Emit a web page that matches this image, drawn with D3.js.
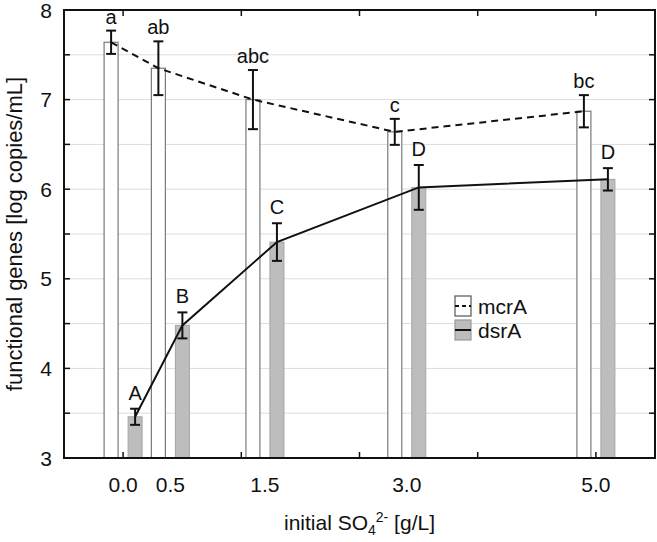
<!DOCTYPE html>
<html>
<head>
<meta charset="utf-8">
<script src="https://cdn.jsdelivr.net/npm/d3@7"></script>
<style>
  body { margin: 0; background: #fff; }
  text { font-family: "Liberation Sans", Arial, sans-serif; fill: #111; }
</style>
</head>
<body>
<svg width="657" height="542"></svg>
<script>
// data
var conc = [0.0, 0.5, 1.5, 3.0, 5.0],
    concLabels = ["0.0", "0.5", "1.5", "3.0", "5.0"],
    mcrA = [7.64, 7.35, 7.00, 6.64, 6.87],
    mcrAErr = [0.13, 0.30, 0.33, 0.145, 0.18],
    mcrALetters = ["a", "ab", "abc", "c", "bc"],
    dsrA = [3.46, 4.48, 5.41, 6.02, 6.11],
    dsrAErr = [0.09, 0.145, 0.21, 0.25, 0.125],
    dsrALetters = ["A", "B", "C", "D", "D"],
    yTicks = [3, 4, 5, 6, 7, 8],
    yMinor = [3.5, 4, 4.5, 5, 5.5, 6, 6.5, 7, 7.5],
    xTicks = [0, 1.25, 2.5, 3.75, 5];

var svg = d3.select("svg"),
    margin = {top: 10, right: 2, bottom: 84, left: 64},
    width = 657 - margin.left - margin.right,
    height = 542 - margin.top - margin.bottom,
    g = svg.append("g")
      .attr("transform", "translate(" + margin.left + "," + margin.top + ")");

var x = d3.scaleLinear().domain([-0.625, 5.625]).range([0, width]),
    y = d3.scaleLinear().domain([3, 8]).range([height, 0]);

var barW = 14, off = 12;

// grid
g.selectAll(".grid")
  .data(yMinor)
  .enter().append("line")
    .attr("x1", 0).attr("x2", width)
    .attr("y1", function(d) { return y(d); })
    .attr("y2", function(d) { return y(d); })
    .attr("stroke", "#dcdcdc")
    .attr("stroke-width", 1);

// bars
g.selectAll(".mcr")
  .data(conc)
  .enter().append("rect")
    .attr("x", function(d) { return x(d) - off - barW / 2; })
    .attr("y", function(d, i) { return y(mcrA[i]); })
    .attr("width", barW)
    .attr("height", function(d, i) { return height - y(mcrA[i]); })
    .attr("fill", "#fff")
    .attr("stroke", "#7a7a7a")
    .attr("stroke-width", 1.2);

g.selectAll(".dsr")
  .data(conc)
  .enter().append("rect")
    .attr("x", function(d) { return x(d) + off - barW / 2; })
    .attr("y", function(d, i) { return y(dsrA[i]); })
    .attr("width", barW)
    .attr("height", function(d, i) { return height - y(dsrA[i]); })
    .attr("fill", "#bdbdbd")
    .attr("stroke", "#a5a5a5")
    .attr("stroke-width", 1);

// lines
var lineM = d3.line()
  .x(function(d, i) { return x(conc[i]) - off; })
  .y(function(d) { return y(d); });
var lineD = d3.line()
  .x(function(d, i) { return x(conc[i]) + off; })
  .y(function(d) { return y(d); });

g.append("path").datum(mcrA)
  .attr("d", lineM).attr("fill", "none")
  .attr("stroke", "#111").attr("stroke-width", 2)
  .attr("stroke-dasharray", "7,5");
g.append("path").datum(dsrA)
  .attr("d", lineD).attr("fill", "none")
  .attr("stroke", "#111").attr("stroke-width", 2);

// error bars
function errBars(vals, errs, dx) {
  var eb = g.append("g").attr("stroke", "#111").attr("stroke-width", 2);
  conc.forEach(function(c, i) {
    var cx = x(c) + dx, t = y(vals[i] + errs[i]), b = y(vals[i] - errs[i]);
    eb.append("line").attr("x1", cx).attr("x2", cx).attr("y1", t).attr("y2", b);
    eb.append("line").attr("x1", cx - 5).attr("x2", cx + 5).attr("y1", t).attr("y2", t);
    eb.append("line").attr("x1", cx - 5).attr("x2", cx + 5).attr("y1", b).attr("y2", b);
  });
}
errBars(mcrA, mcrAErr, -off);
errBars(dsrA, dsrAErr, off);

// significance letters
g.selectAll(".lm")
  .data(mcrALetters)
  .enter().append("text")
    .attr("x", function(d, i) { return x(conc[i]) - off; })
    .attr("y", function(d, i) { return y(mcrA[i] + mcrAErr[i]) - 7; })
    .attr("text-anchor", "middle")
    .style("font-size", "20px")
    .text(function(d) { return d; });

g.selectAll(".ld")
  .data(dsrALetters)
  .enter().append("text")
    .attr("x", function(d, i) { return x(conc[i]) + off; })
    .attr("y", function(d, i) { return y(dsrA[i] + dsrAErr[i]) - 9; })
    .attr("text-anchor", "middle")
    .style("font-size", "20px")
    .text(function(d) { return d; });

// frame + ticks
g.append("rect")
  .attr("width", width).attr("height", height)
  .attr("fill", "none").attr("stroke", "#111").attr("stroke-width", 2);

var tk = g.append("g").attr("stroke", "#111").attr("stroke-width", 1.5);
yMinor.forEach(function(d) {
  tk.append("line").attr("x1", 0).attr("x2", 6).attr("y1", y(d)).attr("y2", y(d));
  tk.append("line").attr("x1", width - 6).attr("x2", width).attr("y1", y(d)).attr("y2", y(d));
});
xTicks.forEach(function(d) {
  tk.append("line").attr("x1", x(d)).attr("x2", x(d)).attr("y1", height).attr("y2", height - 6);
  tk.append("line").attr("x1", x(d)).attr("x2", x(d)).attr("y1", 0).attr("y2", 6);
});

// tick labels
g.selectAll(".yt")
  .data(yTicks)
  .enter().append("text")
    .attr("x", -12)
    .attr("y", function(d) { return y(d); })
    .attr("dy", "0.36em")
    .attr("text-anchor", "end")
    .style("font-size", "21px")
    .text(function(d) { return d; });

g.selectAll(".xt")
  .data(concLabels)
  .enter().append("text")
    .attr("x", function(d, i) { return x(conc[i]); })
    .attr("y", height + 34)
    .attr("text-anchor", "middle")
    .style("font-size", "21px")
    .text(function(d) { return d; });

// axis titles
var xt = g.append("text")
  .attr("x", width / 2)
  .attr("y", height + 72)
  .attr("text-anchor", "middle")
  .style("font-size", "21px");
xt.append("tspan").text("initial SO");
xt.append("tspan").attr("dy", 5).style("font-size", "14px").text("4");
xt.append("tspan").attr("dy", -13).style("font-size", "14px").text("2-");
xt.append("tspan").attr("dy", 8).text(" [g/L]");

g.append("text")
  .attr("transform", "rotate(-90)")
  .attr("x", -height / 2)
  .attr("y", -42)
  .attr("text-anchor", "middle")
  .style("font-size", "22px")
  .text("functional genes [log copies/mL]");

// legend
var lg = g.append("g").attr("transform", "translate(391,286)");
var items = [
  {name: "mcrA", fill: "#fff", stroke: "#555", dash: "4,3"},
  {name: "dsrA", fill: "#bdbdbd", stroke: "#999", dash: null}
];
items.forEach(function(it, i) {
  var row = lg.append("g").attr("transform", "translate(0," + (i * 24) + ")");
  row.append("rect").attr("width", 16).attr("height", 20)
    .attr("fill", it.fill).attr("stroke", it.stroke).attr("stroke-width", 1.2);
  row.append("line").attr("x1", 0).attr("x2", 16).attr("y1", 10).attr("y2", 10)
    .attr("stroke", "#111").attr("stroke-width", 2)
    .attr("stroke-dasharray", it.dash);
  row.append("text").attr("x", 23).attr("y", 10).attr("dy", "0.36em")
    .style("font-size", "21px").text(it.name);
});
</script>
</body>
</html>
